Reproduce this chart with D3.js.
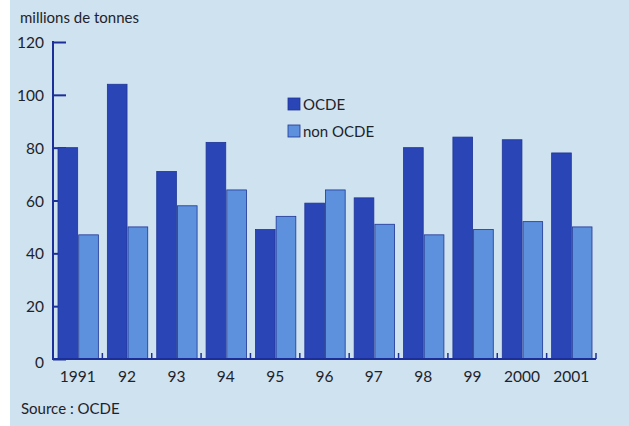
<!DOCTYPE html>
<html>
<head>
<meta charset="utf-8">
<script src="https://cdn.jsdelivr.net/npm/d3@7"></script>
<style>
  body { margin: 0; background: #ffffff; }
  text { font-family: Lato, "Noto Sans", sans-serif; fill: #1f222a; }
</style>
</head>
<body>
<div id="chart"></div>
<script>
const years = ["1991", "92", "93", "94", "95", "96", "97", "98", "99", "2000", "2001"];
const ocde = [80, 104, 71, 82, 49, 59, 61, 80, 84, 83, 78];
const nonOcde = [47, 50, 58, 64, 54, 64, 51, 47, 49, 52, 50];
const yTicks = [0, 20, 40, 60, 80, 100, 120];
const seriesNames = ["OCDE", "non OCDE"];

const width = 629, height = 426;
const margin = { top: 42, right: 33, bottom: 67, left: 53 };
const colors = ["#2a45b6", "#5d90dd"];

const svg = d3.select("#chart").append("svg")
    .attr("width", width)
    .attr("height", height);

svg.append("rect")
    .attr("x", 10).attr("y", 0)
    .attr("width", width - 10).attr("height", height)
    .attr("fill", "#cee2ef");

let x = d3.scaleBand()
    .domain(years)
    .range([margin.left, width - margin.right]);
let y = d3.scaleLinear()
    .domain([0, 120])
    .range([height - margin.bottom, margin.top]);

// y axis with inward ticks, drawn under the bars
let yAxis = svg.append("g")
    .attr("transform", `translate(${margin.left}, 0)`)
    .call(d3.axisRight(y).tickValues(yTicks).tickSize(13).tickFormat(""));
yAxis.select(".domain").remove();
yAxis.selectAll(".tick line").attr("stroke", "#1c2f98").attr("stroke-width", 2);

svg.append("g").selectAll("text")
    .data(yTicks)
    .join("text")
    .attr("x", margin.left - 9)
    .attr("y", d => y(d) + 6 + (d == 0 ? 3 : 0))
    .attr("text-anchor", "end")
    .attr("font-size", 15.5)
    .text(d => d);

let inner = d3.scaleBand()
    .domain([0, 1])
    .range([5, x.bandwidth() - 4])
    .paddingInner(0.05);

let groups = svg.append("g").selectAll("g")
    .data(years)
    .join("g")
    .attr("transform", d => `translate(${x(d)}, 0)`);

groups.selectAll("rect")
    .data((d, i) => [ocde[i], nonOcde[i]])
    .join("rect")
    .attr("x", (d, j) => inner(j))
    .attr("width", inner.bandwidth())
    .attr("y", d => y(d))
    .attr("height", d => y(0) - y(d))
    .attr("fill", (d, j) => colors[j])
    .attr("stroke", "#1f3596")
    .attr("stroke-width", 0.8);

// axes lines
svg.append("line")
    .attr("x1", margin.left).attr("x2", margin.left)
    .attr("y1", y(120) - 1).attr("y2", y(0) + 1)
    .attr("stroke", "#1c2f98").attr("stroke-width", 2);

let xAxis = svg.append("g")
    .attr("transform", `translate(0, ${y(0)})`);
xAxis.append("line")
    .attr("x1", margin.left).attr("x2", width - margin.right)
    .attr("stroke", "#1c2f98").attr("stroke-width", 2);
xAxis.selectAll(".sep")
    .data(years.slice(1).concat(["end"]))
    .join("line")
    .attr("class", "sep")
    .attr("x1", d => d == "end" ? width - margin.right : x(d))
    .attr("x2", d => d == "end" ? width - margin.right : x(d))
    .attr("y1", 0).attr("y2", -6)
    .attr("stroke", "#1c2f98").attr("stroke-width", 1.5);
xAxis.selectAll("text")
    .data(years)
    .join("text")
    .attr("x", d => x(d) + x.bandwidth() / 2)
    .attr("y", 23)
    .attr("text-anchor", "middle")
    .attr("font-size", 15.5)
    .text(d => d);

// legend
let legend = svg.append("g").attr("transform", "translate(288, 98)");
seriesNames.forEach((name, i) => {
    legend.append("rect")
        .attr("x", 0).attr("y", i * 27)
        .attr("width", 12).attr("height", 12)
        .attr("fill", colors[i])
        .attr("stroke", "#1f3596").attr("stroke-width", 0.8);
    legend.append("text")
        .attr("x", 15).attr("y", i * 27 + 12)
        .attr("font-size", 15)
        .text(name);
});

svg.append("text")
    .attr("x", 20).attr("y", 23)
    .attr("font-size", 15)
    .text("millions de tonnes");

svg.append("text")
    .attr("x", 21).attr("y", 414)
    .attr("font-size", 15)
    .text("Source : OCDE");
</script>
</body>
</html>
